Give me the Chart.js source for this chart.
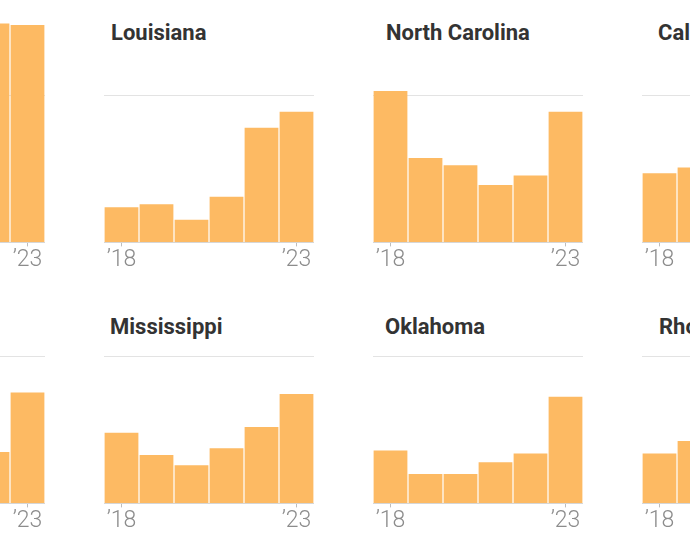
<!DOCTYPE html>
<html>
<head>
	<meta charset="utf-8">
	<title>Small multiples</title>
	<style>
		html, body {
			margin: 0;
			padding: 0;
			background: #fff;
			overflow: hidden;
		}
		body {
			position: relative;
			width: 690px;
			height: 549px;
		}
		.panel {
			position: absolute;
		}
		.panel h3 {
			position: absolute;
			margin: 0;
			white-space: nowrap;
			font-family: Roboto, "Liberation Sans", sans-serif;
			font-weight: 700;
			font-size: 22px;
			line-height: 24px;
			color: #333;
		}
		.panel canvas {
			position: absolute;
		}
	</style>
</head>
<body>
	<script src="https://cdn.jsdelivr.net/npm/chart.js@4.4.1/dist/chart.umd.min.js"></script>
	<script>
		'use strict'

		// years on the x axis, only first and last get a label
		const years = ['’18', '’19', '’20', '’21', '’22', '’23']
		const shownYears = ['’18', '’23']

		// values, the light gridline is 100
		// null = bar lies outside the cropped picture
		const topLeft = [null, null, null, null, 149, 148]
		const louisiana = [24, 26, 15.5, 31, 78, 89]
		const northCarolina = [103, 57.5, 52.5, 39, 45.5, 89]
		const california = [47, 51, null, null, null, null]

		const bottomLeft = [null, null, null, null, 35, 75.5]
		const mississippi = [48, 33, 26, 37.5, 52, 74.5]
		const oklahoma = [36, 20, 20, 28, 34, 72.5]
		const rhodeIsland = [34, 42.5, null, null, null, null]

		const gridValue = 100
		const yMax = 150

		const orange = '#fdba63'

		// panel layout: left edge of plot, top of canvas, title position
		const panels = [
			{ name: '', data: topLeft, left: -165, top: 22 },
			{ name: 'Louisiana', data: louisiana, left: 104, top: 22, tx: 111, ty: 21 },
			{ name: 'North Carolina', data: northCarolina, left: 373, top: 22, tx: 386, ty: 21 },
			{ name: 'California', data: california, left: 642, top: 22, tx: 658, ty: 21 },
			{ name: '', data: bottomLeft, left: -165, top: 283 },
			{ name: 'Mississippi', data: mississippi, left: 104, top: 283, tx: 110, ty: 315 },
			{ name: 'Oklahoma', data: oklahoma, left: 373, top: 283, tx: 385, ty: 315 },
			{ name: 'Rhode Island', data: rhodeIsland, left: 642, top: 283, tx: 659, ty: 315 },
		]

		const W = 210
		const H = 252

		panels.forEach(p => {
			const div = document.createElement('div')
			div.className = 'panel'
			div.style.left = '0px'
			div.style.top = '0px'
			document.body.appendChild(div)

			if (p.name) {
				const h = document.createElement('h3')
				h.textContent = p.name
				h.style.left = p.tx + 'px'
				h.style.top = p.ty + 'px'
				div.appendChild(h)
			}

			const canvas = document.createElement('canvas')
			canvas.width = W
			canvas.height = H
			canvas.style.left = p.left + 'px'
			canvas.style.top = p.top + 'px'
			div.appendChild(canvas)

			drawPanel(canvas, p.data)
		})

		function drawPanel(canvas, data) {
			const edge = i => i === 0 || i === years.length - 1
			new Chart(canvas.getContext('2d'), {
				type: 'bar',
				data: {
					labels: years,
					datasets: [{
						data: data,
						backgroundColor: orange,
						borderWidth: 0,
						barPercentage: 0.965,
						categoryPercentage: 1
					}]
				},
				options: {
					responsive: false,
					animation: false,
					events: [],
					layout: { padding: 0 },
					plugins: {
						legend: { display: false },
						tooltip: { enabled: false }
					},
					scales: {
						x: {
							grid: {
								offset: false,
								drawOnChartArea: false,
								tickLength: 4,
								tickColor: c => edge(c.index) ? '#bdbdbd' : 'transparent'
							},
							border: { color: '#d6d6d6' },
							ticks: {
								autoSkip: false,
								maxRotation: 0,
								padding: 0,
								color: '#8c8c8c',
								font: { family: 'Roboto', size: 23, weight: 300, lineHeight: 1.2 },
								callback: (v, i) => edge(i) ? shownYears[i === 0 ? 0 : 1] : ''
							}
						},
						y: {
							min: 0,
							max: yMax,
							ticks: { display: false, stepSize: 50 },
							border: { display: false },
							grid: {
								drawTicks: false,
								color: c => c.tick && c.tick.value === gridValue ? '#e3e3e3' : 'transparent'
							}
						}
					}
				}
			})
		}
	</script>
</body>
</html>
